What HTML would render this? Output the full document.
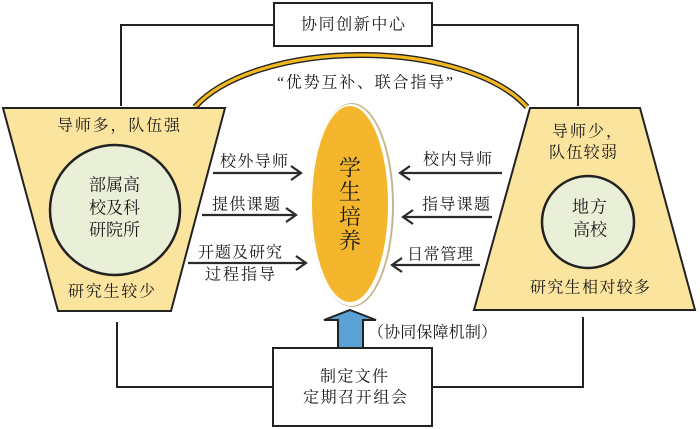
<!DOCTYPE html>
<html><head><meta charset="utf-8">
<style>
html,body{margin:0;padding:0;background:#fff;}
svg{display:block;}
text{font-family:"Liberation Serif","Noto Serif CJK SC","Noto Sans CJK SC",serif;fill:#1a1a1a;dominant-baseline:central;}
</style></head>
<body>
<svg width="700" height="429" viewBox="0 0 700 429" xmlns="http://www.w3.org/2000/svg">
<!-- connectors -->
<g fill="none" stroke="#222" stroke-width="2">
<polyline points="274,25 121,25 121,106"/>
<polyline points="432,25 578,25 578,106"/>
<polyline points="117,322 117,387 273,387"/>
<polyline points="583,317 583,387 432,387"/>
</g>
<!-- top box -->
<rect x="274" y="3" width="158" height="43" fill="#fff" stroke="#222" stroke-width="2"/>
<text x="301" y="25" font-size="16" textLength="104" lengthAdjust="spacing">协同创新中心</text>
<!-- arc -->
<path d="M195 107 A180 84.8 0 0 1 527 107" fill="none" stroke="#222" stroke-width="6"/>
<path d="M195 107 A180 84.8 0 0 1 527 107" fill="none" stroke="#f2b81f" stroke-width="3.2"/>
<text x="277" y="83" font-size="16" textLength="176" lengthAdjust="spacing">“优势互补、联合指导”</text>
<!-- left trapezoid -->
<polygon points="3,108 225,108 171,311 58,311" fill="#fbe49e" stroke="#222" stroke-width="2"/>
<circle cx="115" cy="210" r="65" fill="#eaf0d8" stroke="#222" stroke-width="2.5"/>
<text x="57" y="126" font-size="16" textLength="123" lengthAdjust="spacing">导师多，队伍强</text>
<text x="89" y="185" font-size="17" textLength="51" lengthAdjust="spacing">部属高</text>
<text x="89" y="208" font-size="17" textLength="51" lengthAdjust="spacing">校及科</text>
<text x="89" y="230" font-size="17" textLength="51" lengthAdjust="spacing">研院所</text>
<text x="68" y="292" font-size="16" textLength="87" lengthAdjust="spacing">研究生较少</text>
<!-- right trapezoid -->
<polygon points="530,108 640,108 695,310 474,310" fill="#fbe49e" stroke="#222" stroke-width="2"/>
<circle cx="588" cy="222" r="46" fill="#eaf0d8" stroke="#222" stroke-width="2.5"/>
<text x="552" y="132" font-size="16" textLength="70" lengthAdjust="spacing">导师少，</text>
<text x="549" y="153" font-size="16" textLength="68" lengthAdjust="spacing">队伍较弱</text>
<text x="572" y="207" font-size="17" textLength="35" lengthAdjust="spacing">地方</text>
<text x="573" y="230" font-size="17" textLength="34" lengthAdjust="spacing">高校</text>
<text x="530" y="288" font-size="16" textLength="120" lengthAdjust="spacing">研究生相对较多</text>
<!-- center ellipse -->
<ellipse cx="352" cy="205" rx="42" ry="102" fill="#c8b48a"/>
<ellipse cx="351" cy="205" rx="41" ry="101" fill="#fff"/>
<ellipse cx="350" cy="204" rx="38" ry="98" fill="#f4b62c"/>
<text x="350" y="168" font-size="22" text-anchor="middle">学</text>
<text x="350" y="192" font-size="22" text-anchor="middle">生</text>
<text x="350" y="217" font-size="22" text-anchor="middle">培</text>
<text x="350" y="241" font-size="22" text-anchor="middle">养</text>
<!-- left arrows -->
<g fill="none" stroke="#2a2a2a" stroke-width="2.2">
<line x1="213" y1="173" x2="301" y2="173"/><polyline points="291,166 301,173 291,180"/>
<line x1="202" y1="215" x2="296" y2="215"/><polyline points="286,208 296,215 286,222"/>
<line x1="188" y1="263" x2="306" y2="263"/><polyline points="296,256 306,263 296,270"/>
<!-- right arrows -->
<line x1="502" y1="173" x2="400" y2="173"/><polyline points="410,166 400,173 410,180"/>
<line x1="492" y1="217" x2="403" y2="217"/><polyline points="413,210 403,217 413,224"/>
<line x1="480" y1="265" x2="392" y2="265"/><polyline points="402,258 392,265 402,272"/>
</g>
<text x="220" y="162" font-size="16" textLength="68" lengthAdjust="spacing">校外导师</text>
<text x="212" y="205" font-size="16" textLength="68" lengthAdjust="spacing">提供课题</text>
<text x="198" y="253" font-size="16" textLength="84" lengthAdjust="spacing">开题及研究</text>
<text x="205" y="275" font-size="16" textLength="70" lengthAdjust="spacing">过程指导</text>
<text x="423" y="160" font-size="16" textLength="69" lengthAdjust="spacing">校内导师</text>
<text x="422" y="205" font-size="16" textLength="68" lengthAdjust="spacing">指导课题</text>
<text x="407" y="255" font-size="16" textLength="66" lengthAdjust="spacing">日常管理</text>
<!-- blue arrow -->
<polygon points="350,310 376,320 363,320 363,348 338,348 338,320 324,320" fill="#5aa2d5" stroke="#222" stroke-width="2" stroke-linejoin="miter"/>
<text x="368" y="333" font-size="16" textLength="129" lengthAdjust="spacing">（协同保障机制）</text>
<!-- bottom box -->
<rect x="273" y="348" width="159" height="78" fill="#fff" stroke="#222" stroke-width="2"/>
<text x="320" y="377" font-size="16" textLength="68" lengthAdjust="spacing">制定文件</text>
<text x="303" y="398" font-size="16" textLength="104" lengthAdjust="spacing">定期召开组会</text>
</svg>
</body></html>
